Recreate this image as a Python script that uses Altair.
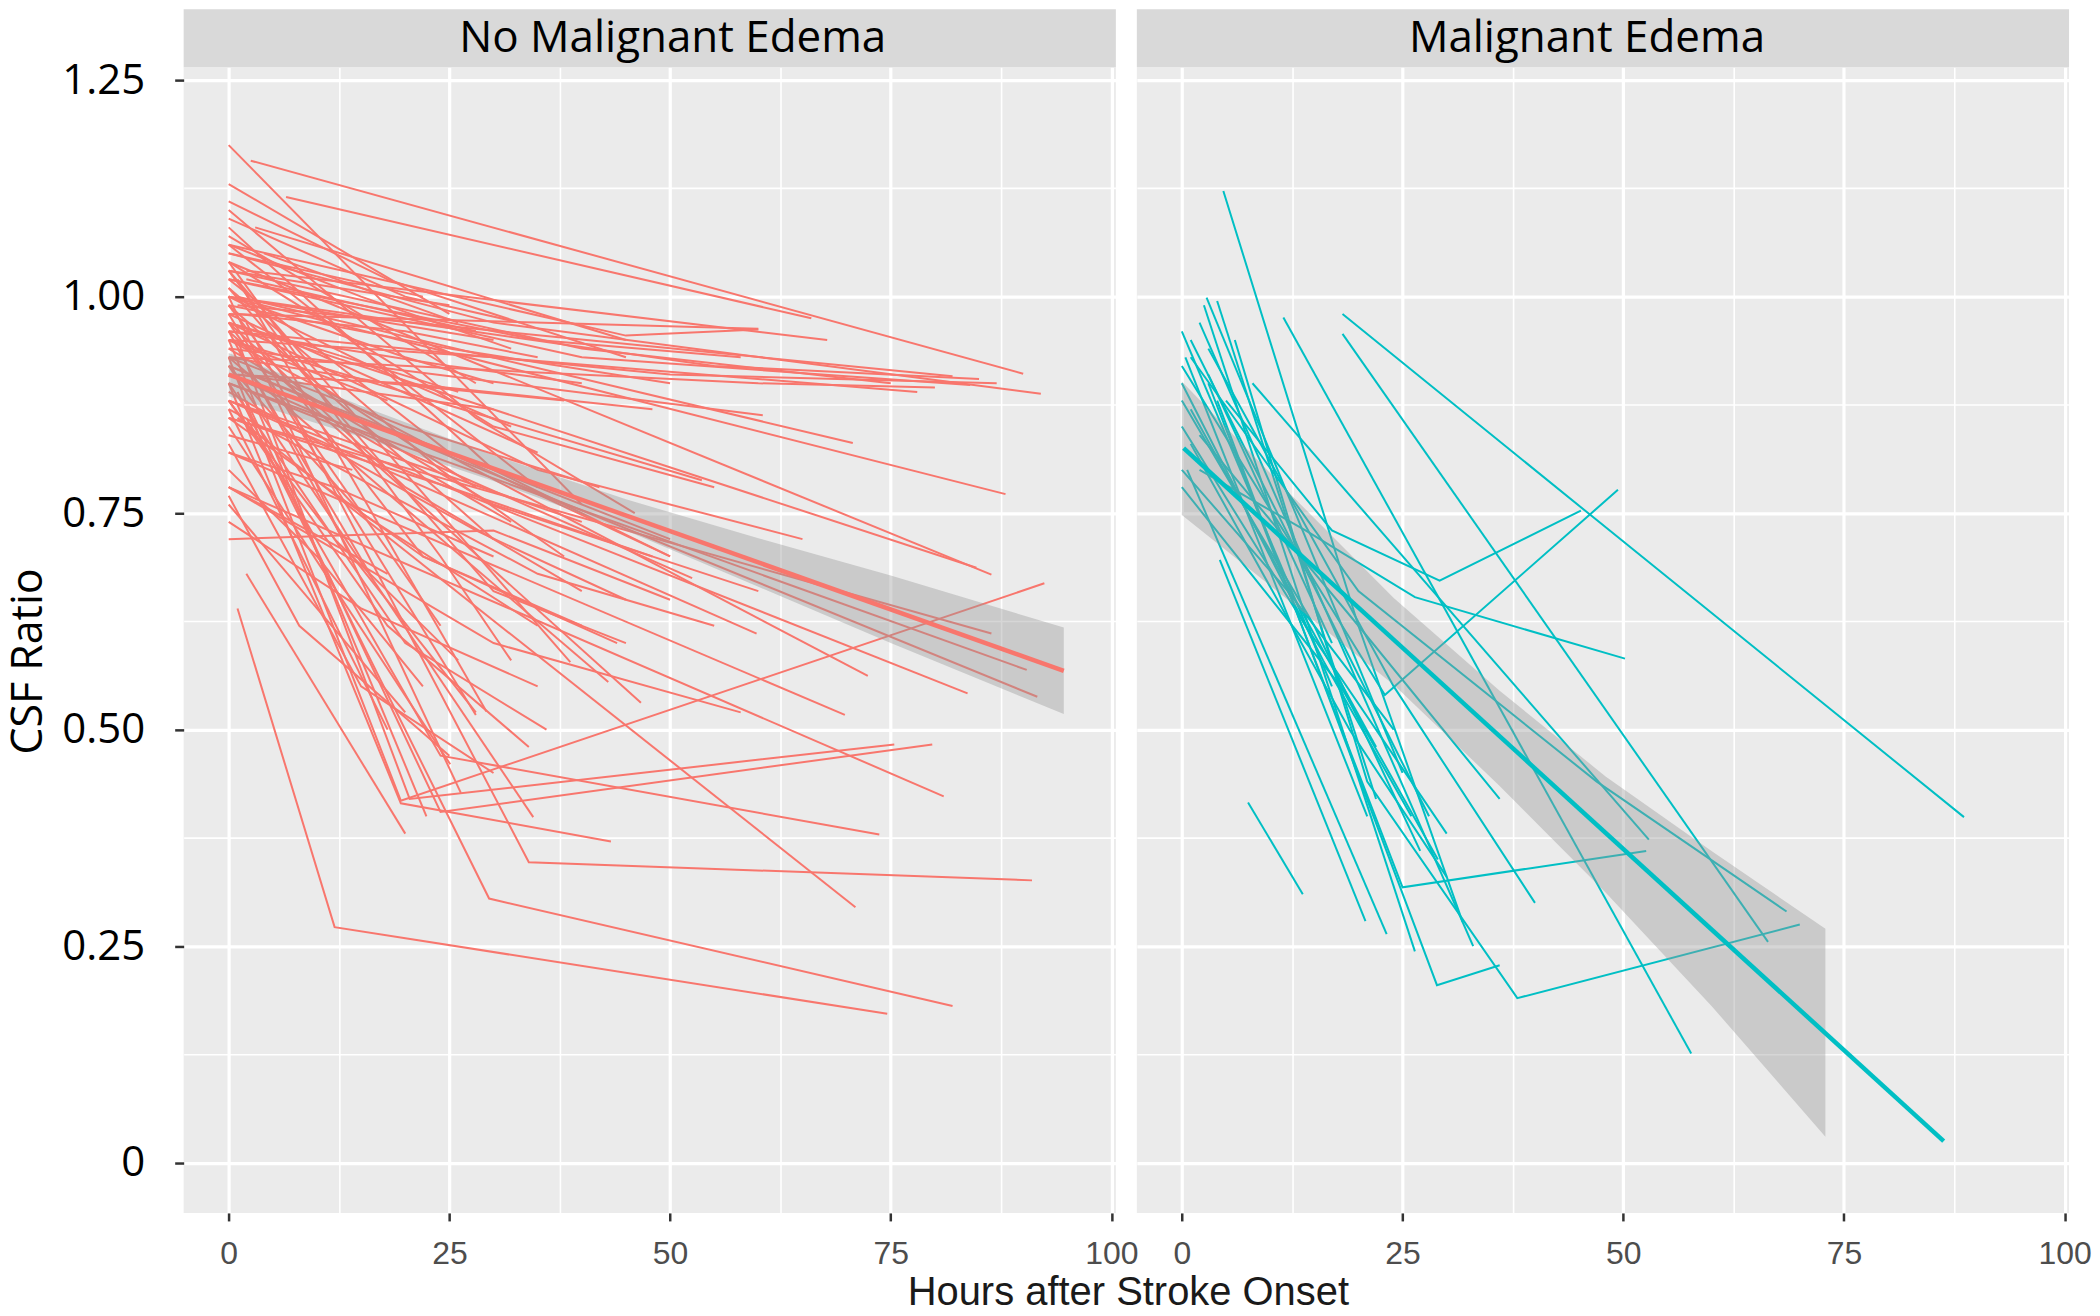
import altair as alt
import pandas as pd

# ---------------- data ----------------
panel_titles = ["No Malignant Edema", "Malignant Edema"]

# each inner list is one patient trajectory (hours after onset, CSF ratio)
left_hours = [
    [2.5, 90], [0, 30, 92], [0, 40, 84], [1, 82], [0, 50, 87], [0, 60, 80],
    [0, 88], [0, 84.7], [0, 86.4], [0, 90.4], [0, 91.6], [0, 83.7], [0, 86.4],
    [0, 19.5, 92.4], [2, 34, 91], [1, 29.5, 82], [1, 12, 74.6], [0, 81],
    [1, 20.5, 75.4], [2, 24, 79.7], [2, 24, 73.7], [1, 71], [0, 72.4], [0, 69.8],
    [0, 59.8], [0, 60], [2, 67.8], [0, 60.5], [1, 70.7], [0, 53.6], [0, 52.5],
    [0, 35, 58], [3, 45], [6.5, 66], [0, 45, 60], [0, 25], [0, 12, 30],
    [1, 20, 35], [0, 22], [2, 28], [0, 25, 40], [0, 18, 38], [1, 30],
    [0, 20, 33], [0, 25], [0, 18, 45], [0, 40], [0, 30, 50], [0, 35],
    [0, 28, 46], [0, 22.4], [0, 26.3], [0, 28], [1, 29.2], [0, 34.5],
    [0, 46.7], [0, 43], [0, 38.7], [0, 19.5, 43.3], [0, 25.1], [2, 20],
    [0, 18], [0, 15, 30], [0, 20, 36], [0, 24], [0, 30, 45], [1, 16],
    [0, 12, 26], [0, 22, 40], [0, 10, 22], [0, 20], [0, 30, 50], [0, 30, 58],
    [0, 8, 25], [0, 30, 50], [0, 40], [0, 25, 48], [0, 35], [0, 20, 42],
    [0, 30, 55], [0, 15, 32], [0, 18], [0, 14], [0, 28, 45], [0, 24, 38],
    [0, 30, 60], [0, 35, 55], [0, 16, 32], [0, 10, 26], [0, 15, 32],
    [0, 25, 50], [0, 20, 48], [0, 40, 75], [0, 30, 78], [0, 55, 85],
    [0, 12, 30], [0, 18], [0, 15, 35],
    [0, 20, 40], [0, 25, 50], [0, 15, 35], [0, 30], [0, 22, 44], [0, 35, 65],
    [0, 10, 28], [0, 28], [0, 20, 30], [4, 26], [0, 18, 34], [0, 14, 28],
    [0, 24, 32],
]
left_ratio = [
    [1.157, 0.911], [1.05, 0.97, 0.888], [1.02, 0.93, 0.898], [0.99, 0.908],
    [0.96, 0.91, 0.90], [0.93, 0.90, 0.895], [1.00, 0.772], [0.97, 0.687],
    [1.04, 0.679], [0.90, 0.569], [0.92, 0.538], [0.88, 0.542], [0.86, 0.611],
    [0.93, 0.418, 0.669], [0.97, 0.347, 0.326], [0.89, 0.305, 0.181],
    [0.64, 0.272, 0.172], [0.78, 0.423], [0.95, 0.42, 0.483], [0.88, 0.405, 0.483],
    [0.86, 0.47, 0.379], [0.86, 0.295], [0.95, 0.562], [0.82, 0.517],
    [0.88, 0.611], [0.98, 0.963], [1.03, 0.95], [0.94, 0.863], [1.00, 0.831],
    [0.95, 0.788], [0.91, 0.675], [1.02, 0.95, 0.93], [1.08, 0.95],
    [1.115, 0.975], [1.06, 0.955, 0.962], [1.03, 0.99], [1.00, 0.98, 0.95],
    [0.98, 0.96, 0.93], [1.05, 1.00], [1.02, 0.96], [0.96, 0.92, 0.90],
    [0.93, 0.90, 0.88], [0.91, 0.87], [1.09, 1.00, 0.97], [1.13, 0.98],
    [1.11, 1.02, 0.93], [1.175, 0.76], [1.08, 0.80, 0.70], [1.06, 0.78],
    [1.10, 0.86, 0.75], [0.95, 0.40], [1.00, 0.427], [0.98, 0.517],
    [1.02, 0.521], [0.92, 0.399], [0.96, 0.531], [0.93, 0.555], [1.03, 0.578],
    [0.90, 0.415, 0.371], [0.85, 0.46], [0.68, 0.38], [0.87, 0.50],
    [0.83, 0.55, 0.45], [0.90, 0.60, 0.50], [0.97, 0.62], [1.01, 0.66, 0.60],
    [0.94, 0.68], [0.88, 0.72, 0.58], [0.99, 0.70, 0.62], [0.80, 0.70, 0.55],
    [0.76, 0.52], [0.72, 0.73, 0.65], [0.78, 0.60, 0.52], [0.77, 0.62, 0.47],
    [0.92, 0.80, 0.72], [0.88, 0.74], [0.86, 0.78, 0.70], [0.98, 0.82],
    [0.93, 0.85, 0.78], [1.04, 0.85, 0.78], [0.90, 0.84, 0.74], [0.95, 0.88],
    [0.84, 0.80], [0.89, 0.73, 0.65], [1.01, 0.80, 0.70], [0.94, 0.76, 0.66],
    [0.87, 0.68, 0.62], [1.00, 0.92, 0.85], [0.97, 0.94, 0.89],
    [1.06, 1.00, 0.94], [0.99, 0.94, 0.90], [0.91, 0.90, 0.87],
    [1.03, 0.94, 0.90], [0.95, 0.93, 0.89], [1.00, 0.92, 0.905],
    [0.82, 0.78, 0.70], [0.78, 0.68], [0.74, 0.64, 0.55],
    [0.97, 0.78, 0.66], [1.02, 0.82, 0.70], [0.92, 0.75, 0.62], [0.99, 0.72],
    [0.86, 0.70, 0.60], [0.97, 0.80, 0.72], [1.04, 0.90, 0.78], [1.07, 0.90],
    [1.00, 0.93, 0.90], [1.05, 0.97], [0.88, 0.62, 0.48], [0.96, 0.70, 0.52],
    [1.03, 0.70, 0.58],
]

right_hours = [
    [4.7, 20, 31.8], [18.2, 47, 88.6], [18.2, 66.4], [11.5, 57.7], [7.5, 13.7],
    [5, 17, 29.2, 45.2], [2, 14, 26.4, 50.2], [4, 28.9, 36], [6, 21, 38, 70],
    [3, 25, 52.6], [0, 23, 49.4], [1, 20, 47, 68.5], [8, 52.9], [4.3, 20.8],
    [0.6, 23.2], [2.5, 26.4], [4, 22], [0, 17], [2, 33], [0, 16, 26], [1, 22],
    [0, 14, 30], [0, 12, 24], [2, 20, 36], [3, 24, 40], [0, 18, 29], [1, 28],
    [0.4, 21], [2.8, 25], [0, 15, 27], [1, 19, 30], [3, 17],
]
right_ratio = [
    [1.122, 0.62, 0.278], [0.98, 0.742, 0.399], [0.957, 0.255], [0.976, 0.126],
    [0.416, 0.31], [0.88, 0.73, 0.672, 0.753], [0.80, 0.73, 0.653, 0.582],
    [0.88, 0.205, 0.228], [0.95, 0.44, 0.19, 0.275], [0.90, 0.318, 0.36],
    [0.92, 0.54, 0.777], [0.93, 0.66, 0.44, 0.29], [0.90, 0.373], [0.696, 0.279],
    [0.80, 0.264], [0.99, 0.244], [0.995, 0.42], [0.96, 0.55], [0.97, 0.25],
    [0.90, 0.58, 0.40], [0.87, 0.48], [0.85, 0.62, 0.38], [0.80, 0.66, 0.50],
    [0.84, 0.62, 0.42], [0.94, 0.55, 0.30], [0.78, 0.55, 0.35], [0.95, 0.40],
    [0.93, 0.40], [0.999, 0.45], [0.88, 0.62, 0.36], [0.83, 0.50, 0.33],
    [0.91, 0.60],
]

# linear fits and their confidence bands
left_fit_hours = [0, 94.6]
left_fit_ratio = [0.910, 0.568]
left_band_hours = [0, 15, 30, 45, 60, 75, 94.6]
left_band_lo = [0.885, 0.838, 0.787, 0.730, 0.665, 0.600, 0.518]
left_band_hi = [0.935, 0.874, 0.817, 0.766, 0.721, 0.678, 0.618]

right_fit_hours = [0.2, 86.3]
right_fit_ratio = [0.825, 0.025]
right_band_hours = [0, 12, 24, 36, 48, 60, 72.9]
right_band_lo = [0.748, 0.650, 0.552, 0.435, 0.312, 0.181, 0.030]
right_band_hi = [0.902, 0.775, 0.652, 0.545, 0.446, 0.360, 0.270]

x_grid = [0, 12.5, 25, 37.5, 50, 62.5, 75, 87.5, 100]
y_grid = [0, 0.125, 0.25, 0.375, 0.5, 0.625, 0.75, 0.875, 1.0, 1.125, 1.25]

# ---------------- build ----------------
PANEL_W = 934
PANEL_H = 1148
STRIP_H = 58
FONT = "Open Sans"


def lines_df(hours, ratio):
    rows = []
    for i, (hs, rs) in enumerate(zip(hours, ratio)):
        for h, r in zip(hs, rs):
            rows.append({"id": i, "hours": h, "ratio": r})
    return pd.DataFrame(rows)


x_scale = alt.Scale(domain=[-5.1, 100.5], nice=False, zero=False)
y_scale = alt.Scale(domain=[-0.058, 1.265], nice=False, zero=False)

major_x = "datum.value % 25 === 0"
major_y = "datum.value % 0.25 === 0"


def x_axis(title, title_x):
    kw = dict(
        values=x_grid,
        labelExpr="datum.value % 25 === 0 ? datum.label : ''",
        labelOverlap=False,
        labelFlush=False,
        domain=False,
        gridColor="white",
        gridWidth={"condition": {"test": major_x, "value": 3.2}, "value": 1.6},
        tickOpacity={"condition": {"test": major_x, "value": 1}, "value": 0},
        tickColor="#333333",
        tickWidth=2.5,
        tickSize=8,
        labelFont="Liberation Sans",
        labelFontSize=32,
        labelColor="#4D4D4D",
        labelPadding=18,
        title=title,
    )
    if title:
        kw.update(
            titleFont="Liberation Sans",
            titleFontSize=40,
            titleFontWeight="normal",
            titleColor="#1A1A1A",
            titleX=title_x,
            titleY=60,
            titleAlign="center",
            titleAnchor="start",
            titleBaseline="top",
        )
    return alt.Axis(**kw)


def y_axis(show):
    kw = dict(
        values=y_grid,
        domain=False,
        gridColor="white",
        gridWidth={"condition": {"test": major_y, "value": 3.2}, "value": 1.6},
    )
    if show:
        kw.update(
            labelExpr="datum.value === 0 ? '0' : (datum.value % 0.25 === 0 ? format(datum.value, '.2f') : '')",
            labelOverlap=False,
            labelFlush=False,
            tickOpacity={"condition": {"test": major_y, "value": 1}, "value": 0},
            tickColor="#333333",
            tickWidth=2.5,
            tickSize=9,
            labelFont=FONT,
            labelFontSize=42,
            labelColor="black",
            labelPadding=30,
            title="CSF Ratio",
            titleFont=FONT,
            titleFontSize=43,
            titleFontWeight="normal",
            titleColor="black",
            titleAngle=-90,
            titleX=-176,
            titleY=595,
            titleAlign="center",
            titleBaseline="top",
        )
    else:
        kw.update(labels=False, ticks=False, title="")
    return alt.Axis(**kw)


def panel(label, text_x, hours, ratio, fit_h, fit_r, band_h, lo, hi, color,
          show_y, xtitle, title_x):
    ldf = lines_df(hours, ratio)
    fit = pd.DataFrame({"hours": fit_h, "ratio": fit_r})
    band = pd.DataFrame({"hours": band_h, "lo": lo, "hi": hi})
    sdf = pd.DataFrame({"label": [label]})

    spaghetti = alt.Chart(ldf).mark_line(color=color, strokeWidth=2).encode(
        x=alt.X("hours:Q", scale=x_scale, axis=x_axis(xtitle, title_x)),
        y=alt.Y("ratio:Q", scale=y_scale, axis=y_axis(show_y)),
        detail="id:N",
    )
    ribbon = alt.Chart(band).mark_area(color="#999999", opacity=0.4).encode(
        x=alt.X("hours:Q", scale=x_scale),
        y=alt.Y("lo:Q", scale=y_scale),
        y2="hi:Q",
    )
    smooth = alt.Chart(fit).mark_line(color=color, strokeWidth=4.5).encode(
        x=alt.X("hours:Q", scale=x_scale),
        y=alt.Y("ratio:Q", scale=y_scale),
    )
    # facet strip drawn above the plot area
    strip_bg = alt.Chart(sdf).mark_rect(color="#D9D9D9", clip=False).encode(
        x=alt.value(0), x2=alt.value(PANEL_W),
        y=alt.value(-STRIP_H), y2=alt.value(0),
    )
    strip_txt = alt.Chart(sdf).mark_text(
        font=FONT, fontSize=44, color="black", baseline="middle", align="center",
        clip=False,
    ).encode(text="label:N", x=alt.value(text_x), y=alt.value(-28))

    return alt.layer(strip_bg, strip_txt, spaghetti, ribbon, smooth).properties(
        width=PANEL_W, height=PANEL_H
    )


left_panel = panel(panel_titles[0], 490, left_hours, left_ratio,
                   left_fit_hours, left_fit_ratio,
                   left_band_hours, left_band_lo, left_band_hi,
                   "#F8766D", True, "Hours after Stroke Onset", 946)
right_panel = panel(panel_titles[1], 451, right_hours, right_ratio,
                    right_fit_hours, right_fit_ratio,
                    right_band_hours, right_band_lo, right_band_hi,
                    "#00BFC4", False, "", 0)

chart = (
    alt.hconcat(left_panel, right_panel, spacing=21, bounds="flush")
    .resolve_scale(x="independent", y="independent")
    .properties(padding=0, background="white")
    .configure_view(fill="#EBEBEB", strokeWidth=0)
)

chart.save("out.html", embed_options={"renderer": "svg", "actions": False})
